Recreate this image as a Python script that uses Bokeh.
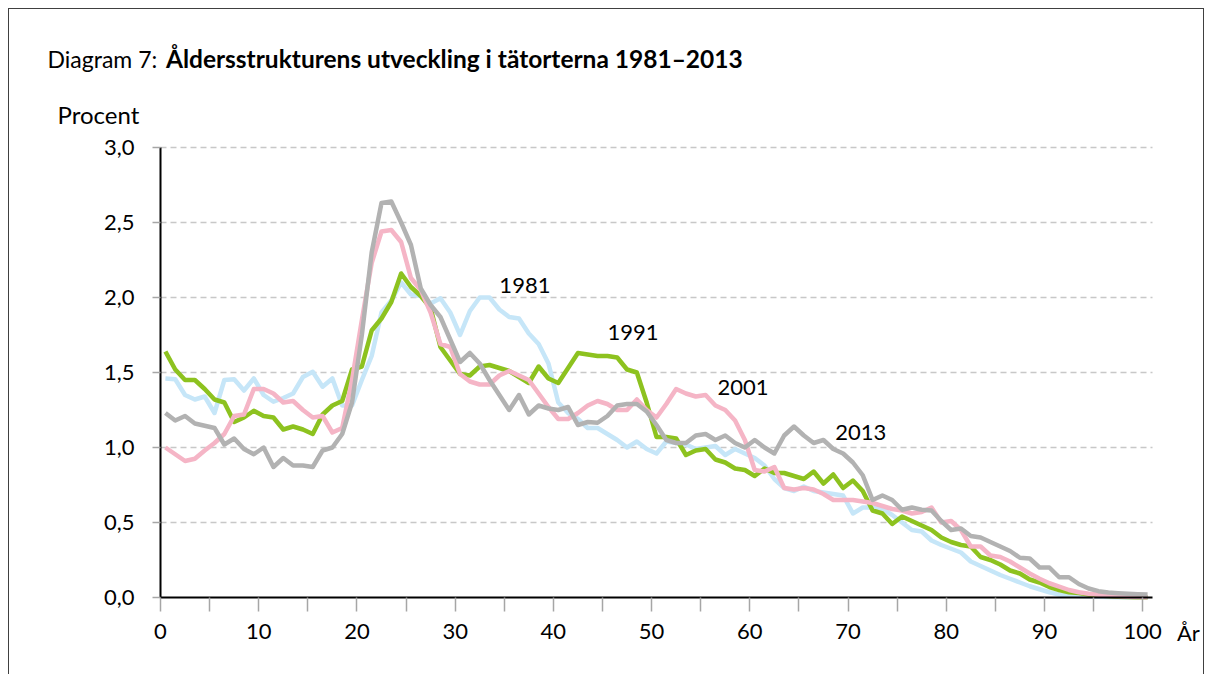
from bokeh.plotting import figure
from bokeh.models import Range1d, FixedTicker, Label
from bokeh.embed import file_html
from bokeh.resources import INLINE

ages = list(range(0, 101))

y1981 = [1.46, 1.455, 1.35, 1.32, 1.34, 1.23, 1.45, 1.455, 1.38, 1.46,
         1.35, 1.305, 1.33, 1.36, 1.47, 1.505, 1.405, 1.46, 1.28, 1.28,
         1.45, 1.61, 1.90, 1.98, 2.10, 2.02, 2.01, 1.96, 1.995, 1.90,
         1.75, 1.91, 2.00, 2.00, 1.92, 1.87, 1.86, 1.76, 1.69, 1.56,
         1.30, 1.23, 1.19, 1.13, 1.13, 1.09, 1.05, 1.00, 1.04, 0.99,
         0.96, 1.04, 1.03, 1.02, 0.99, 1.00, 1.01, 0.95, 0.99, 0.96,
         0.93, 0.88, 0.79, 0.73, 0.71, 0.74, 0.71, 0.70, 0.69, 0.68,
         0.56, 0.60, 0.60, 0.59, 0.55, 0.50, 0.45, 0.44, 0.38, 0.35,
         0.325, 0.30, 0.24, 0.21, 0.18, 0.15, 0.125, 0.10, 0.075, 0.055,
         0.035, 0.02, 0.013, 0.01, 0.007, 0.005, 0.003, 0.002, 0.001, 0.001,
         0.0]

y1991 = [1.64, 1.52, 1.45, 1.45, 1.39, 1.32, 1.30, 1.17, 1.20, 1.245,
         1.21, 1.20, 1.12, 1.14, 1.12, 1.09, 1.22, 1.28, 1.31, 1.52,
         1.54, 1.78, 1.86, 1.97, 2.16, 2.07, 2.01, 1.93, 1.67, 1.58,
         1.49, 1.48, 1.54, 1.55, 1.53, 1.51, 1.47, 1.43, 1.54, 1.46,
         1.43, 1.53, 1.63, 1.62, 1.61, 1.61, 1.60, 1.52, 1.50, 1.30,
         1.07, 1.07, 1.06, 0.95, 0.98, 0.99, 0.92, 0.90, 0.86, 0.85,
         0.81, 0.86, 0.83, 0.83, 0.81, 0.79, 0.84, 0.76, 0.82, 0.73,
         0.78, 0.71, 0.58, 0.56, 0.49, 0.54, 0.51, 0.48, 0.45, 0.40,
         0.37, 0.35, 0.34, 0.27, 0.25, 0.22, 0.18, 0.16, 0.12, 0.10,
         0.07, 0.05, 0.035, 0.03, 0.02, 0.013, 0.01, 0.005, 0.003, 0.002,
         0.001]

y2001 = [1.00, 0.955, 0.91, 0.925, 0.98, 1.03, 1.09, 1.21, 1.22, 1.39,
         1.39, 1.36, 1.30, 1.31, 1.25, 1.20, 1.21, 1.10, 1.13, 1.45,
         1.85, 2.23, 2.44, 2.45, 2.37, 2.13, 2.05, 1.90, 1.69, 1.67,
         1.49, 1.44, 1.42, 1.42, 1.48, 1.51, 1.48, 1.45, 1.36, 1.27,
         1.19, 1.19, 1.23, 1.28, 1.31, 1.29, 1.25, 1.25, 1.32, 1.25,
         1.20, 1.29, 1.39, 1.36, 1.34, 1.35, 1.28, 1.25, 1.18, 1.05,
         0.85, 0.84, 0.87, 0.73, 0.72, 0.73, 0.72, 0.69, 0.65, 0.65,
         0.65, 0.64, 0.63, 0.61, 0.59, 0.58, 0.56, 0.57, 0.60, 0.50,
         0.51, 0.45, 0.34, 0.34, 0.28, 0.27, 0.24, 0.20, 0.16, 0.125,
         0.095, 0.073, 0.05, 0.035, 0.025, 0.018, 0.012, 0.008, 0.005, 0.003,
         0.002]

y2013 = [1.23, 1.18, 1.21, 1.16, 1.145, 1.13, 1.02, 1.06, 0.99, 0.955,
         1.00, 0.87, 0.93, 0.88, 0.88, 0.87, 0.98, 1.00, 1.09, 1.30,
         1.75, 2.30, 2.63, 2.64, 2.50, 2.35, 2.06, 1.95, 1.87, 1.72,
         1.57, 1.63, 1.56, 1.45, 1.35, 1.25, 1.35, 1.22, 1.28, 1.26,
         1.25, 1.27, 1.15, 1.17, 1.165, 1.21, 1.28, 1.29, 1.29, 1.24,
         1.15, 1.05, 1.03, 1.03, 1.08, 1.09, 1.05, 1.08, 1.03, 1.00,
         1.05, 1.00, 0.96, 1.08, 1.14, 1.08, 1.03, 1.05, 0.99, 0.96,
         0.90, 0.815, 0.65, 0.68, 0.65, 0.585, 0.60, 0.585, 0.58, 0.51,
         0.45, 0.46, 0.41, 0.40, 0.37, 0.34, 0.31, 0.265, 0.26, 0.20,
         0.20, 0.135, 0.135, 0.09, 0.06, 0.042, 0.033, 0.029, 0.025, 0.022,
         0.02]

series_names = ["1981", "1991", "2001", "2013"]
series_values = [y1981, y1991, y2001, y2013]
series_colors = ["#c6e6f8", "#8dc21f", "#f5b5c6", "#b2b2b2"]
# label anchor positions (age, percent) for the year labels
label_pos = [(37.1, 2.08), (48.1, 1.77), (59.3, 1.40), (71.3, 1.10)]

x_ticks = list(range(0, 101, 5))
y_ticks = [0.0, 0.5, 1.0, 1.5, 2.0, 2.5, 3.0]
y_tick_labels = ["0,0", "0,5", "1,0", "1,5", "2,0", "2,5", "3,0"]
x_axis_end = 101
y_axis_end = 3.0

FONT = "Lato"
FS = "22px"
TFS = "24.5px"

# canvas geometry (pixels): plot area placed inside a full-canvas frame
W, H = 1196, 666
PL, PR, PT, PB = 151, 53, 138, 78
sx = (W - PL - PR) / x_axis_end
sy = (H - PT - PB) / y_axis_end
x_rng = Range1d(-PL / sx, (W - PL) / sx)
y_rng = Range1d(-PB / sy, (H - PB) / sy)

p = figure(width=W, height=H, output_backend="svg", toolbar_location=None,
           x_range=x_rng, y_range=y_rng,
           min_border_left=0, min_border_right=0,
           min_border_top=0, min_border_bottom=0)
p.styles = {"margin-left": "8px", "margin-top": "8px",
            "border-top": "1px solid #404040", "border-left": "1px solid #404040",
            "border-right": "1px solid #404040"}
p.outline_line_color = None
p.background_fill_color = "white"
p.border_fill_color = "white"
p.xgrid.visible = False
p.ygrid.visible = False

# dashed horizontal grid lines, spanning the axis extent
grid_y = y_ticks[1:]
p.segment(x0=[0] * len(grid_y), x1=[x_axis_end] * len(grid_y), y0=grid_y, y1=grid_y,
          line_color="#c8c8c8", line_width=1.5, line_dash="6 4")

# axes
xa = p.xaxis[0]
xa.fixed_location = 0
xa.bounds = (0, x_axis_end)
xa.ticker = FixedTicker(ticks=x_ticks)
xa.major_label_overrides = {t: (str(t) if t % 10 == 0 else "") for t in x_ticks}
xa.axis_line_color = "black"
xa.axis_line_width = 2
xa.major_tick_line_color = "#a6a6a6"
xa.major_tick_line_width = 1.5
xa.major_tick_out = 14
xa.major_tick_in = 0
xa.minor_tick_line_color = None
xa.major_label_text_font = FONT
xa.major_label_text_font_size = FS
xa.major_label_text_color = "black"
xa.major_label_standoff = 12

ya = p.yaxis[0]
ya.fixed_location = 0
ya.bounds = (0, y_axis_end)
ya.ticker = FixedTicker(ticks=y_ticks)
ya.major_label_overrides = {t: l for t, l in zip(y_ticks, y_tick_labels)}
ya.axis_line_color = "black"
ya.axis_line_width = 2
ya.major_tick_line_color = "#a6a6a6"
ya.major_tick_line_width = 1.5
ya.major_tick_out = 8
ya.major_tick_in = 0
ya.minor_tick_line_color = None
ya.major_label_text_font = FONT
ya.major_label_text_font_size = FS
ya.major_label_text_color = "black"
ya.major_label_standoff = 18

# lines, plotted at the centre of each age category
xs = [a + 0.5 for a in ages]
for name, vals, col in zip(series_names, series_values, series_colors):
    p.line(xs, vals, line_color=col, line_width=4.5, line_join="round")

for name, (lx, ly) in zip(series_names, label_pos):
    p.add_layout(Label(x=lx, y=ly, text=name, text_font=FONT, text_font_size=FS,
                       text_align="center", text_baseline="middle", text_color="black"))

# title and axis titles
p.add_layout(Label(x=-11.50, y=3.593, text="Diagram 7:", text_font=FONT,
                   text_font_size="23px", text_align="left", text_baseline="alphabetic",
                   text_color="black"))
p.add_layout(Label(x=0.55, y=3.593,
                   text="Åldersstrukturens utveckling i tätorterna 1981–2013",
                   text_font=FONT, text_font_size=TFS, text_font_style="bold",
                   text_align="left", text_baseline="alphabetic", text_color="black"))
p.add_layout(Label(x=-10.49, y=3.222, text="Procent", text_font=FONT, text_font_size="24px",
                   text_align="left", text_baseline="alphabetic", text_color="black"))
p.add_layout(Label(x=104.66, y=-0.233, text="År", text_font=FONT, text_font_size=FS,
                   text_align="center", text_baseline="middle", text_color="black"))

open("out.html", "w").write(file_html(p, INLINE))
